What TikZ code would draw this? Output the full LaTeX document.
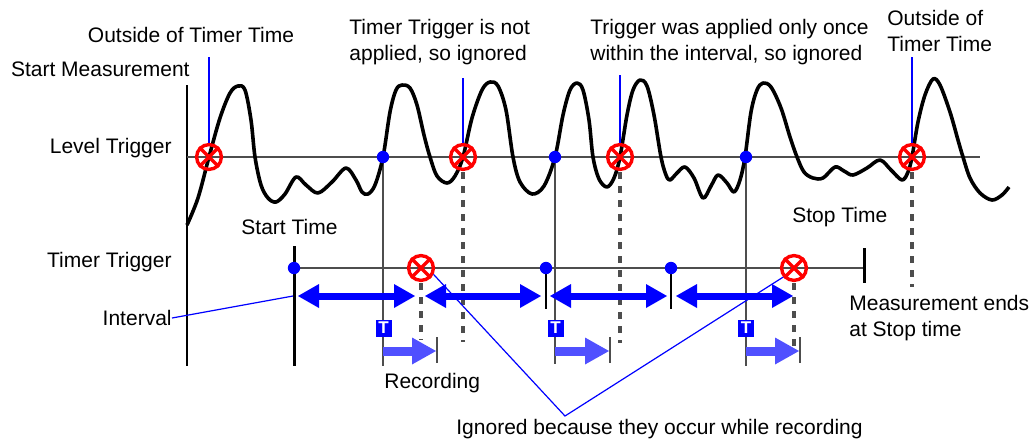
\documentclass[tikz,border=0pt]{standalone}
\usepackage{fontspec}
\setmainfont{Liberation Sans}
\usetikzlibrary{arrows.meta}
\definecolor{linegray}{RGB}{77,77,77}
\definecolor{recblue}{RGB}{80,80,255}
\tikzset{
  lbl/.style={font=\fontsize{10.5}{13}\selectfont, inner sep=0pt, align=left},
  xmark/.style={circle, draw=red, line width=1.7pt, minimum size=12.4pt, inner sep=0pt},
  tdot/.style={circle, fill=blue, inner sep=0pt, minimum size=6.2pt},
  tbox/.style={fill=blue, text=white, font=\bfseries\fontsize{8.5}{8.5}\selectfont, minimum width=8pt, minimum height=8.5pt, inner sep=0pt},
  gline/.style={draw=linegray, line width=1.1pt},
  dline/.style={draw=linegray, line width=1.7pt, dash pattern=on 3.5pt off 3.5pt},
  bline/.style={draw=black, line width=1.5pt},
  mline/.style={draw=blue, line width=1.1pt},
  callout/.style={draw=blue, line width=0.6pt},
  ivarrow/.style={draw=blue, line width=3.5pt,
    {Triangle[length=10.5pt,width=12pt,line width=0pt]}-{Triangle[length=10.5pt,width=12pt,line width=0pt]}},
  recarrow/.style={draw=recblue, line width=4.5pt, -{Triangle[length=12pt,width=13.5pt,line width=0pt]}},
}
\newcommand\crossmark[1]{\draw[red,line width=1.7pt] (#1.45) -- (#1.225) (#1.135) -- (#1.315);}
\begin{document}
\begin{tikzpicture}[x=0.5pt,y=-0.5pt]
    \useasboundingbox (0,0) rectangle (1030,441);
    % --- trigger points ---
    \coordinate (l1) at (209,157);  \coordinate (l2) at (463,157);
    \coordinate (l3) at (620,157);  \coordinate (l4) at (912,157);
    \coordinate (d1) at (383,157);  \coordinate (d2) at (555,157);
    \coordinate (d3) at (746,157);
    \coordinate (s0) at (294,268);  \coordinate (s1) at (546,268);
    \coordinate (s2) at (671,268);  \coordinate (s3) at (864,268);
    \coordinate (t1) at (421,268);  \coordinate (t2) at (794,268);
    % --- axes ---
    \draw[bline,line width=1.1pt] (187,85) -- (187,366);
    \draw[gline] (187,157) -- (980,157);
    \draw[gline] (s0) -- (s3);
    \draw[bline] (294,246) -- (294,366);
    \draw[bline] (864,248) -- (864,283);
    \draw[bline,line width=1.1pt] (s1) -- (546,309)  (s2) -- (671,309);
    % --- level trigger lines down ---
    \draw[gline] (d1) -- (383,366)  (d2) -- (555,364)  (d3) -- (746,366);
    \draw[dline] (463,172) -- (463,342)  (620,172) -- (620,343)  (912,172) -- (912,287);
    \draw[dline] (421,283) -- (421,340)  (794,283) -- (794,350);
    % --- waveform ---
    \draw[line width=1.8pt, line join=round] plot[smooth, tension=0.55] coordinates {
      (187,225) (198,198) (209,157) (220,118) (230,93) (238,86) (245,90) (251,120) (255,157)
      (261,185) (268,198) (276,202) (285,194) (296,177) (306,185) (318,193) (332,182) (346,168)
      (356,180) (362,192) (368,194) (375,185) (383,157) (390,112) (396,90) (402,85) (410,88)
      (417,105) (424,135) (430,157) (437,176) (447,183) (455,176) (463,157) (472,118) (482,90)
      (490,82) (498,86) (506,110) (513,157) (520,182) (532,194) (544,186) (555,157) (563,115)
      (570,90) (577,83) (583,90) (589,120) (593,157) (599,179) (607,187) (614,178) (620,157)
      (627,115) (633,90) (640,80) (647,86) (654,115) (661,157) (666,175) (670,180) (677,173)
      (685,167) (694,178) (703,198) (711,186) (718,175) (727,183) (734,192) (740,180) (745,157)
      (751,112) (757,90) (763,83) (771,87) (781,108) (790,137) (797,157) (804,172) (813,178)
      (823,178) (835,167) (844,171) (853,175) (867,168) (880,160) (891,170) (902,180) (908,172)
      (912,157) (918,122) (925,95) (933,79) (940,85) (950,112) (958,140) (963,157) (970,178)
      (980,193) (992,200) (1002,195) (1009,187)};
    % --- interval and recording arrows ---
    \foreach \a/\b in {298/415, 425/541, 550/667, 676/793}
      \draw[ivarrow] (\a,296) -- (\b,296);
    \foreach \a/\b in {383/436, 555/609, 746/799}{
      \draw[recarrow] (\a,351) -- (\b,351);
      \draw[gline] (\b+1,337) -- (\b+1,363);
    }
    % --- marks ---
    \foreach \n in {l1,l2,l3,l4,t1,t2}{
      \node[xmark] (\n m) at (\n) {};
      \crossmark{\n m}
    }
    \foreach \n in {d1,d2,d3,s0,s1,s2}
      \node[tdot] (\n m) at (\n) {};
    \node[tbox] (b1) at (383.5,328) {T};
    \node[tbox] (b2) at (555.5,328) {T};
    \node[tbox] (b3) at (746,328) {T};
    \draw[mline] (209,57) -- (l1m.north);
    \draw[mline] (463,78) -- (l2m.north);
    \draw[mline] (620,75) -- (l3m.north);
    \draw[mline] (912,57) -- (l4m.north);
    % --- labels ---
    \node[lbl] (otl) at (191,35) {Outside of Timer Time};
    \node[lbl,anchor=east] (sm) at (190,69) {Start Measurement};
    \node[lbl,anchor=east] (lt) at (172,148) {Level Trigger};
    \node[lbl,anchor=west] (nt) at (349,42) {Timer Trigger is not\\applied, so ignored};
    \node[lbl,anchor=west] (once) at (590,42) {Trigger was applied only once\\within the interval, so ignored};
    \node[lbl,anchor=west] (otr) at (887,31) {Outside of\\Timer Time};
    \node[lbl] (st) at (289.5,227) {Start Time};
    \node[lbl,anchor=west] (sp) at (792,217) {Stop Time};
    \node[lbl,anchor=east] (tt) at (172,262) {Timer Trigger};
    \node[lbl,anchor=east] (iv) at (172,318) {Interval};
    \node[lbl,anchor=west] (me) at (849,318.5) {Measurement ends\\at Stop time};
    \node[lbl,anchor=west] (rec) at (384,383) {Recording};
    \node[lbl,anchor=west] (ign) at (456,429) {Ignored because they occur while recording};
    % --- callouts ---
    \coordinate (ivend) at (293,296);
    \coordinate (apex) at (565,416);
    \draw[callout] (iv.east) -- (ivend);
    \draw[callout] (t1m.-27) -- (apex) -- (t2m.220);
\end{tikzpicture}
\end{document}
